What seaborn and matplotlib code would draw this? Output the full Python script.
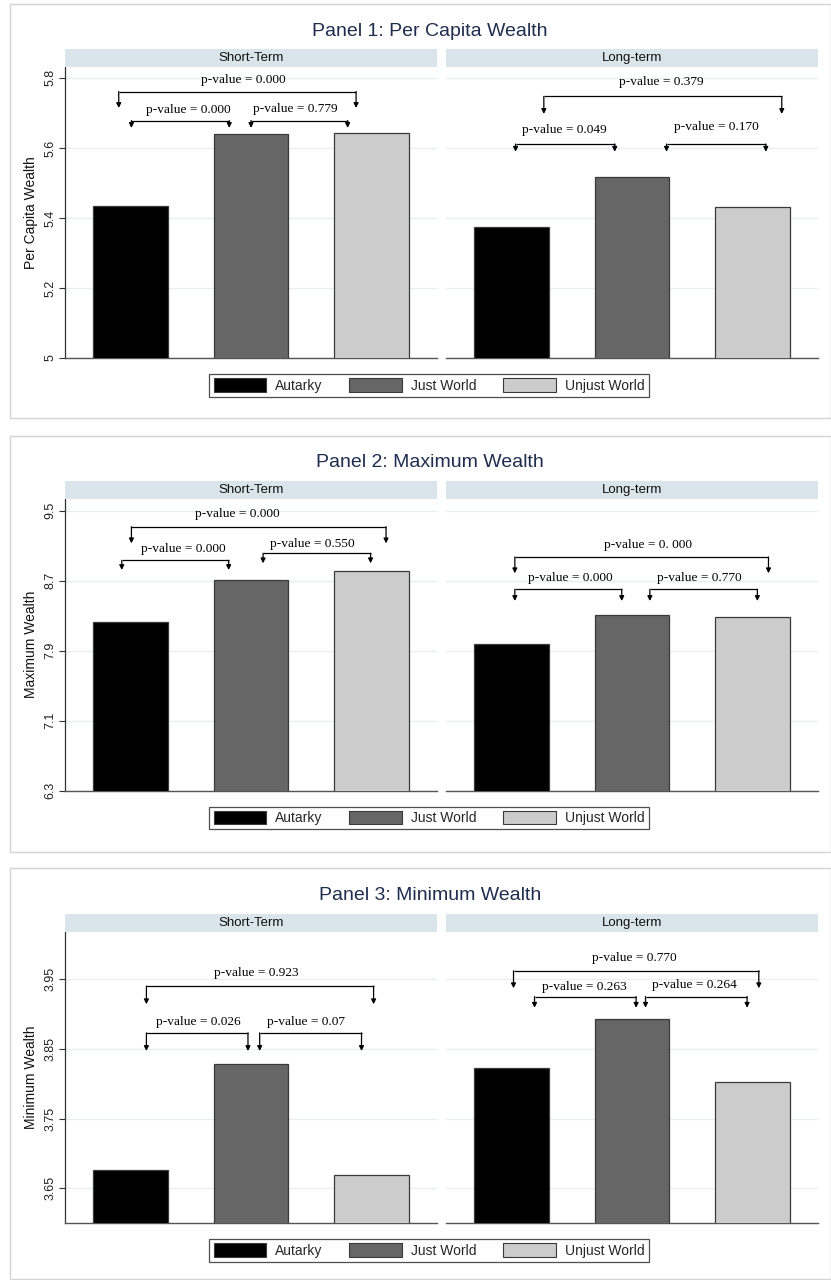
import matplotlib
matplotlib.use("Agg")
import matplotlib.pyplot as plt
from matplotlib.patches import Patch, Rectangle
import seaborn as sns
import pandas as pd

sns.set_theme(style="white")
plt.rcParams['font.family'] = ['Liberation Sans', 'DejaVu Sans']

# ---------------- data ----------------
conditions = ["Autarky", "Just World", "Unjust World"]
colors = ["#000000", "#666666", "#cccccc"]
facets = ["Short-Term", "Long-term"]

panel_titles = ["Panel 1: Per Capita Wealth", "Panel 2: Maximum Wealth", "Panel 3: Minimum Wealth"]
y_labels = ["Per Capita Wealth", "Maximum Wealth", "Minimum Wealth"]

p1_short = [5.434, 5.640, 5.643]
p1_long = [5.375, 5.518, 5.430]
p2_short = [8.231, 8.708, 8.807]
p2_long = [7.973, 8.305, 8.282]
p3_short = [3.677, 3.829, 3.669]
p3_long = [3.822, 3.893, 3.802]

p1_ticks = [5.0, 5.2, 5.4, 5.6, 5.8]
p1_ticklabels = ["5", "5.2", "5.4", "5.6", "5.8"]
p2_ticks = [6.3, 7.1, 7.9, 8.7, 9.5]
p2_ticklabels = ["6.3", "7.1", "7.9", "8.7", "9.5"]
p3_ticks = [3.65, 3.75, 3.85, 3.95]
p3_ticklabels = ["3.65", "3.75", "3.85", "3.95"]

p1_ylim = (5.0, 5.831)
p2_ylim = (6.3, 9.637)
p3_ylim = (3.600, 4.018)

# bracket specs: (x_left, x_right, y_line, y_tip, label, text_x, text_y)
p1_short_brackets = [
    (-0.095, 1.87, 5.761, 5.714, "p-value = 0.000", 0.934, 5.794),
    (0.01, 0.82, 5.678, 5.657, "p-value = 0.000", 0.485, 5.707),
    (1.00, 1.80, 5.678, 5.657, "p-value = 0.779", 1.365, 5.711),
]
p1_long_brackets = [
    (0.27, 2.24, 5.747, 5.697, "p-value = 0.379", 1.245, 5.787),
    (0.036, 0.857, 5.611, 5.589, "p-value = 0.049", 0.442, 5.651),
    (1.286, 2.108, 5.611, 5.589, "p-value = 0.170", 1.695, 5.661),
]
p2_short_brackets = [
    (0.01, 2.118, 9.317, 9.127, "p-value = 0.000", 0.884, 9.462),
    (-0.07, 0.815, 8.933, 8.822, "p-value = 0.000", 0.438, 9.059),
    (1.10, 1.99, 9.013, 8.899, "p-value = 0.550", 1.509, 9.119),
]
p2_long_brackets = [
    (0.03, 2.13, 8.971, 8.785, "p-value = 0. 000", 1.129, 9.108),
    (0.03, 0.915, 8.602, 8.468, "p-value = 0.000", 0.490, 8.727),
    (1.148, 2.038, 8.602, 8.468, "p-value = 0.770", 1.557, 8.727),
]
p3_short_brackets = [
    (0.134, 2.015, 3.940, 3.914, "p-value = 0.923", 1.044, 3.959),
    (0.134, 0.975, 3.873, 3.847, "p-value = 0.026", 0.563, 3.889),
    (1.072, 1.915, 3.873, 3.847, "p-value = 0.07", 1.454, 3.889),
]
p3_long_brackets = [
    (0.019, 2.05, 3.962, 3.937, "p-value = 0.770", 1.017, 3.980),
    (0.193, 1.034, 3.925, 3.909, "p-value = 0.263", 0.608, 3.939),
    (1.112, 1.953, 3.925, 3.909, "p-value = 0.264", 1.513, 3.942),
]

panels = [
    dict(short=p1_short, long=p1_long, ticks=p1_ticks, tl=p1_ticklabels, ylim=p1_ylim,
         sb=p1_short_brackets, lb=p1_long_brackets),
    dict(short=p2_short, long=p2_long, ticks=p2_ticks, tl=p2_ticklabels, ylim=p2_ylim,
         sb=p2_short_brackets, lb=p2_long_brackets),
    dict(short=p3_short, long=p3_long, ticks=p3_ticks, tl=p3_ticklabels, ylim=p3_ylim,
         sb=p3_short_brackets, lb=p3_long_brackets),
]

# ---------------- layout (pixels, top-origin) ----------------
W, H = 831, 1280
fig = plt.figure(figsize=(W / 100, H / 100), dpi=100)
fig.patch.set_facecolor("white")

def fx(x):
    return x / W

def fy(y):
    return 1 - y / H

axes_top = [67, 498.7, 931.7]
axes_bot = [358, 790.7, 1223.3]
strip_h = 18
title_y = [31, 462.5, 895]
legend_y = [385.3, 818, 1250.5]
box_top = [4.5, 436, 868]
box_bot = [418, 851.5, 1279]
col_x = [(65, 437), (446, 818)]

TITLE_COLOR = "#1f2d4f"
STRIP_COLOR = "#d9e5ea"
GRID_COLOR = "#e7eff2"
SPINE_COLOR = "#555555"

def draw_bracket(ax, spec):
    x1, x2, yl, yt, lab, tx, ty = spec
    ax.plot([x1, x2], [yl, yl], color="black", lw=0.9, solid_capstyle="butt", zorder=5)
    for xx in (x1, x2):
        ax.annotate("", xy=(xx, yt), xytext=(xx, yl),
                    arrowprops=dict(arrowstyle="-|>", lw=0.9, color="black",
                                    mutation_scale=7, shrinkA=0, shrinkB=0),
                    zorder=5)
    ax.text(tx, ty, lab, ha="center", va="center", fontsize=9.6,
            family=["Liberation Serif", "DejaVu Serif"], color="black", zorder=6)

for pi, pdict in enumerate(panels):
    # outer panel box
    fig.patches.append(Rectangle((fx(9.5), fy(box_bot[pi])), fx(830.5 - 9.5),
                                 (box_bot[pi] - box_top[pi]) / H, transform=fig.transFigure,
                                 fill=False, edgecolor="#d4d4d4", lw=1.0, zorder=0))
    fig.text(fx(430), fy(title_y[pi]), panel_titles[pi], ha="center", va="center",
             fontsize=14, color=TITLE_COLOR)

    for ci, (fname, vals, brs) in enumerate([("Short-Term", pdict["short"], pdict["sb"]),
                                              ("Long-term", pdict["long"], pdict["lb"])]):
        x0, x1 = col_x[ci]
        ax = fig.add_axes([fx(x0), fy(axes_bot[pi]), fx(x1 - x0),
                           (axes_bot[pi] - axes_top[pi]) / H])
        df = pd.DataFrame({"cond": conditions, "val": vals})
        sns.barplot(data=df, x="cond", y="val", hue="cond", palette=colors,
                    hue_order=conditions, order=conditions, legend=False,
                    width=0.62, edgecolor="#3a3a3a", linewidth=0.9, ax=ax, zorder=3)
        ax.set_xlim(-0.54, 2.54)
        ax.set_ylim(*pdict["ylim"])
        ax.set_xlabel("")
        ax.set_ylabel("")
        ax.set_xticks([])
        ax.set_yticks(pdict["ticks"])
        for t in pdict["ticks"]:
            ax.axhline(t, color=GRID_COLOR, lw=1.0, zorder=1)
        ax.grid(False)
        for s in ["top", "right"]:
            ax.spines[s].set_visible(False)
        ax.spines["bottom"].set_color(SPINE_COLOR)
        ax.spines["bottom"].set_linewidth(1.0)
        if ci == 0:
            ax.spines["left"].set_color("#333333")
            ax.spines["left"].set_linewidth(0.9)
            ax.set_yticklabels(pdict["tl"], rotation=90, va="center", fontsize=9)
            ax.tick_params(axis="y", left=True, length=4, width=0.8, color="#333333",
                           pad=2, labelcolor="#222222")
            ax.set_ylabel(y_labels[pi], fontsize=10, labelpad=5, color="#111111")
        else:
            ax.spines["left"].set_visible(False)
            ax.tick_params(axis="y", left=False, labelleft=False)
        ax.set_facecolor("white")
        for spec in brs:
            draw_bracket(ax, spec)

        # strip header
        sax = fig.add_axes([fx(x0), fy(axes_top[pi]), fx(x1 - x0), strip_h / H])
        sax.set_facecolor(STRIP_COLOR)
        for s in sax.spines.values():
            s.set_visible(False)
        sax.set_xticks([])
        sax.set_yticks([])
        sax.text(0.5, 0.5, fname, ha="center", va="center", fontsize=9.5, color="#111111",
                 transform=sax.transAxes)

    handles = [Patch(facecolor=c, edgecolor="#3a3a3a", lw=0.8, label=l)
               for c, l in zip(colors, conditions)]
    leg = fig.legend(handles=handles, loc="center", bbox_to_anchor=(fx(429), fy(legend_y[pi])),
                     ncol=3, frameon=True, fontsize=10, handlelength=3.8, handleheight=1.15,
                     columnspacing=1.9, handletextpad=0.65, borderpad=0.3, fancybox=False,
                     edgecolor="#222222", borderaxespad=0)
    leg.get_frame().set_linewidth(0.9)

fig.savefig("out.png", dpi=100, facecolor="white")
